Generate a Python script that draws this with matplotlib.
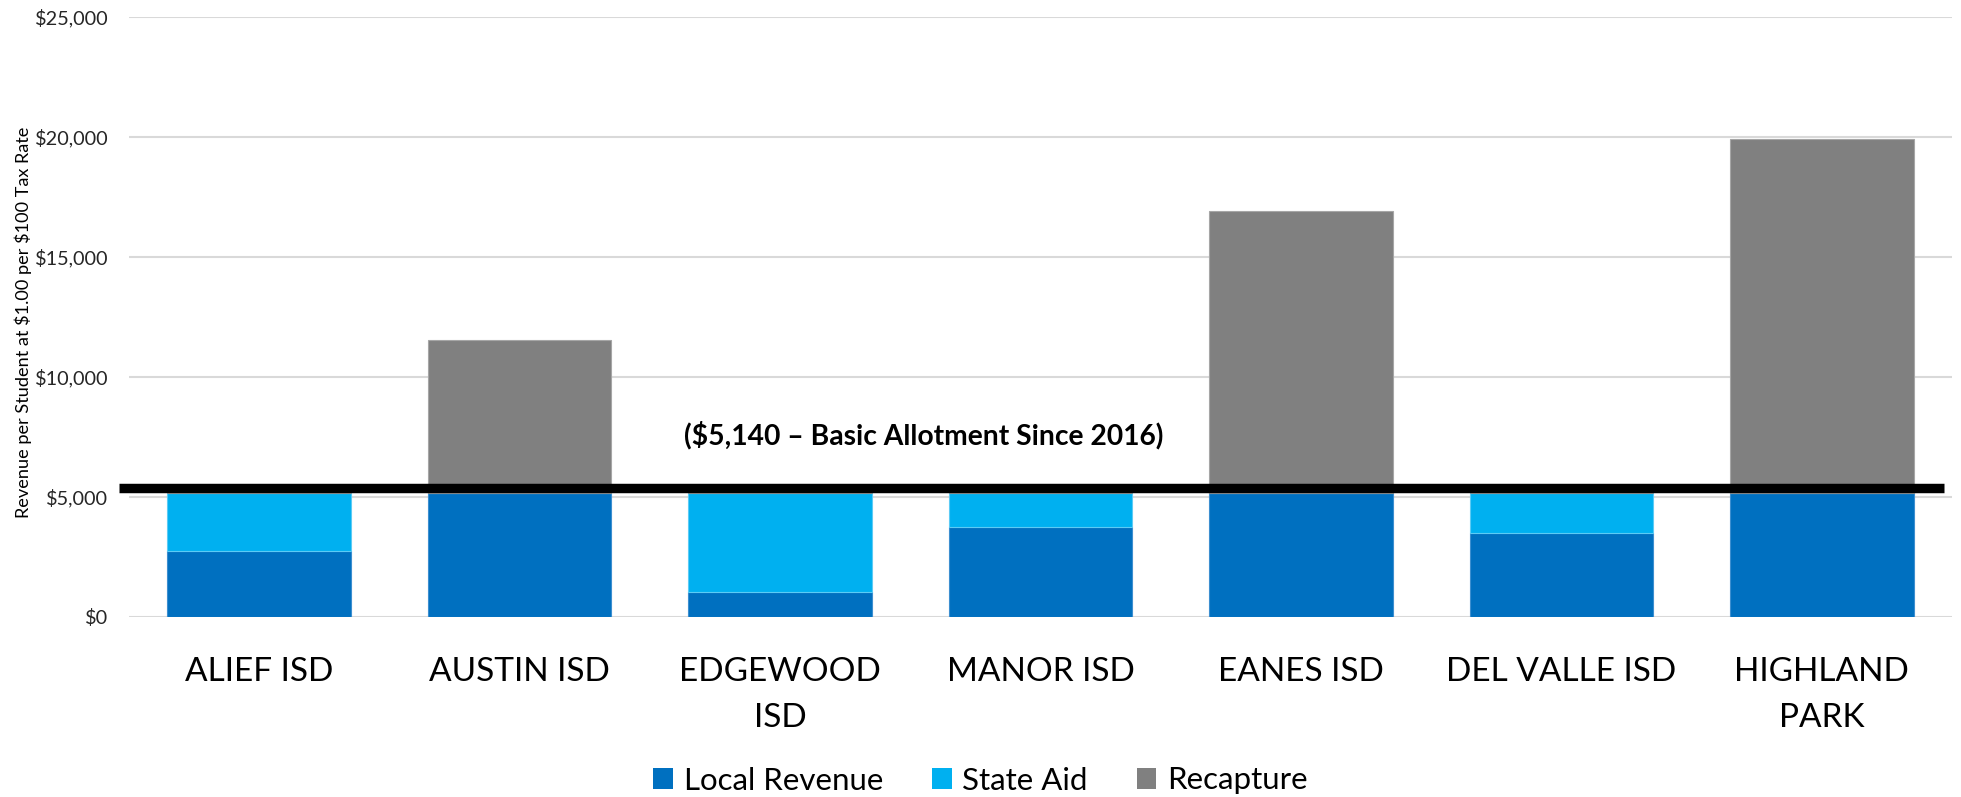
import matplotlib
matplotlib.use("Agg")
import matplotlib.pyplot as plt
import matplotlib.transforms as mtransforms
from matplotlib.patches import Patch
import numpy as np

# ---- data ----
districts = ["ALIEF ISD", "AUSTIN ISD", "EDGEWOOD\nISD", "MANOR ISD",
             "EANES ISD", "DEL VALLE ISD", "HIGHLAND\nPARK"]
local_revenue = [2750, 5140, 1040, 3720, 5140, 3470, 5140]
state_aid = [2390, 0, 4100, 1420, 0, 1670, 0]
recapture = [0, 6390, 0, 0, 11760, 0, 14760]
series_names = ["Local Revenue", "State Aid", "Recapture"]
y_ticks = [0, 5000, 10000, 15000, 20000, 25000]
allotment_line = 5380
annotation = "(\\$5,140 \u2013 Basic Allotment Since 2016)"
y_label = "Revenue per Student at \\$1.00 per \\$100 Tax Rate"

colors = ["#0070C0", "#00B0F0", "#808080"]
edges = ["#3D8FD0", "#5CCBF5", "#A6A6A6"]

plt.rcParams['font.family'] = ['Lato', 'DejaVu Sans']

fig = plt.figure(figsize=(19.61, 7.97), dpi=100)
ax = fig.add_axes([129/1961, 1 - 616.7/797, (1952-129)/1961, (616.7-16.7)/797])

x = np.arange(len(districts))
w = 0.705
ax.bar(x, local_revenue, w, color=colors[0], edgecolor=edges[0], linewidth=0.8,
       label=series_names[0], zorder=3)
bottom2 = np.array(local_revenue)
ax.bar(x, state_aid, w, bottom=bottom2, color=colors[1], edgecolor=edges[1],
       linewidth=0.8, label=series_names[1], zorder=3)
bottom3 = bottom2 + np.array(state_aid)
ax.bar(x, recapture, w, bottom=bottom3, color=colors[2], edgecolor=edges[2],
       linewidth=0.8, label=series_names[2], zorder=3)

ax.set_xlim(-0.5, len(districts) - 0.5)
ax.set_ylim(0, 25000)
ax.set_yticks(y_ticks)
ax.set_yticklabels([f"\\${v:,.0f}" for v in y_ticks], fontsize=14.3, color="#262626")
ax.set_xticks(x)
ax.set_xticklabels(districts, fontsize=24, linespacing=1.68, color="#000000")
ax.tick_params(axis='y', length=0, pad=15)
ax.tick_params(axis='x', length=0, pad=29)
ax.grid(axis='y', color="#D9D9D9", linewidth=1.5, zorder=0)
ax.set_axisbelow(True)
for s in ax.spines.values():
    s.set_visible(False)

# basic allotment line (drawn across, extending slightly beyond plot area)
trans = mtransforms.blended_transform_factory(ax.transAxes, ax.transData)
ax.plot([-0.0055, 0.9956], [allotment_line, allotment_line], color="black",
        linewidth=6.8, solid_capstyle='butt', transform=trans, clip_on=False, zorder=5)

ax.text(2.55, 7570, annotation, ha='center', va='center', fontsize=20.3,
        fontweight='bold', zorder=6)

fig.text(23/1961, 1 - 322/797, y_label, rotation=90, ha='center', va='center',
         fontsize=13.1, color="#000000")

handles = [Patch(facecolor=c) for c in colors]
fig.legend(handles, series_names, loc='center', bbox_to_anchor=(0.5, 1 - 780.5/797),
           ncol=3, frameon=False, fontsize=22.5, handlelength=0.63, handleheight=0.63,
           handletextpad=0.35, columnspacing=1.56)

fig.savefig("out.png", dpi=100)
